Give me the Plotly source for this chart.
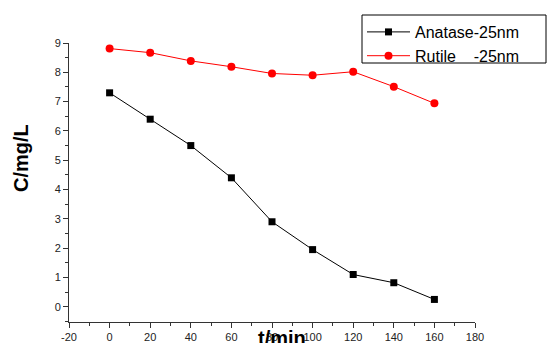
import plotly.graph_objects as go

t = [0, 20, 40, 60, 80, 100, 120, 140, 160]
anatase = [7.3, 6.4, 5.5, 4.4, 2.9, 1.95, 1.1, 0.82, 0.25]
rutile = [8.81, 8.67, 8.39, 8.19, 7.96, 7.9, 8.02, 7.51, 6.94]
names = ["Anatase-25nm", "Rutile\u00a0\u00a0\u00a0\u00a0-25nm"]
x_ticks = [-20, 0, 20, 40, 60, 80, 100, 120, 140, 160, 180]
y_ticks = [0, 1, 2, 3, 4, 5, 6, 7, 8, 9]

W, H = 547, 343
L, R, T, B = 69, 72, 43, 21
PW, PH = W - L - R, H - T - B


def px(xp):
    return (xp - L) / PW


def py(yp):
    return (H - B - yp) / PH


fig = go.Figure()
fig.add_trace(go.Scatter(x=t, y=anatase, mode="lines+markers", name=names[0],
                         line=dict(color="black", width=1),
                         marker=dict(symbol="square", size=7, color="black")))
fig.add_trace(go.Scatter(x=t, y=rutile, mode="lines+markers", name=names[1],
                         line=dict(color="#ff0000", width=1),
                         marker=dict(symbol="circle", size=8, color="#ff0000")))

axis_common = dict(showgrid=False, zeroline=False, showline=True, linecolor="#333",
                   linewidth=1, ticks="outside", ticklen=5, tickcolor="#333",
                   automargin=False,
                   tickfont=dict(family="Arial, Liberation Sans", size=11, color="#222"))
fig.update_xaxes(range=[-20, 180], tickmode="array", tickvals=x_ticks,
                 ticktext=[str(v) for v in x_ticks],
                 minor=dict(dtick=10, tick0=0, ticks="outside", ticklen=3, tickcolor="#333"),
                 **axis_common)
fig.update_yaxes(range=[-0.52, 9.0], tickmode="array", tickvals=y_ticks,
                 ticktext=[str(v) for v in y_ticks],
                 minor=dict(dtick=0.5, tick0=0, ticks="outside", ticklen=3, tickcolor="#333"),
                 **axis_common)

fig.add_annotation(text="<b>C/mg/L</b>", xref="paper", yref="paper",
                   x=px(21), y=py(158),
                   xanchor="center", yanchor="middle", textangle=-90, showarrow=False,
                   font=dict(family="Arial, Liberation Sans", size=20, color="black"))
fig.add_annotation(text="<b>t/min</b>", xref="paper", yref="paper",
                   x=px(282), y=py(338),
                   xanchor="center", yanchor="middle", showarrow=False,
                   font=dict(family="Arial, Liberation Sans", size=20, color="black"))

# legend frame
fig.add_shape(type="rect", xref="paper", yref="paper",
              x0=px(362), x1=px(546), y0=py(63), y1=py(15),
              line=dict(color="black", width=1), fillcolor="white", layer="below")

fig.update_layout(
    width=W, height=H,
    margin=dict(l=L, r=R, t=T, b=B, autoexpand=False),
    paper_bgcolor="white", plot_bgcolor="rgba(0,0,0,0)",
    showlegend=True,
    legend=dict(x=px(362), y=py(15),
                xanchor="left", yanchor="top",
                borderwidth=0, bgcolor="rgba(0,0,0,0)",
                font=dict(family="Arial, Liberation Sans", size=16, color="black"),
                tracegroupgap=0, itemwidth=43),
)

fig.write_html("out.html")
